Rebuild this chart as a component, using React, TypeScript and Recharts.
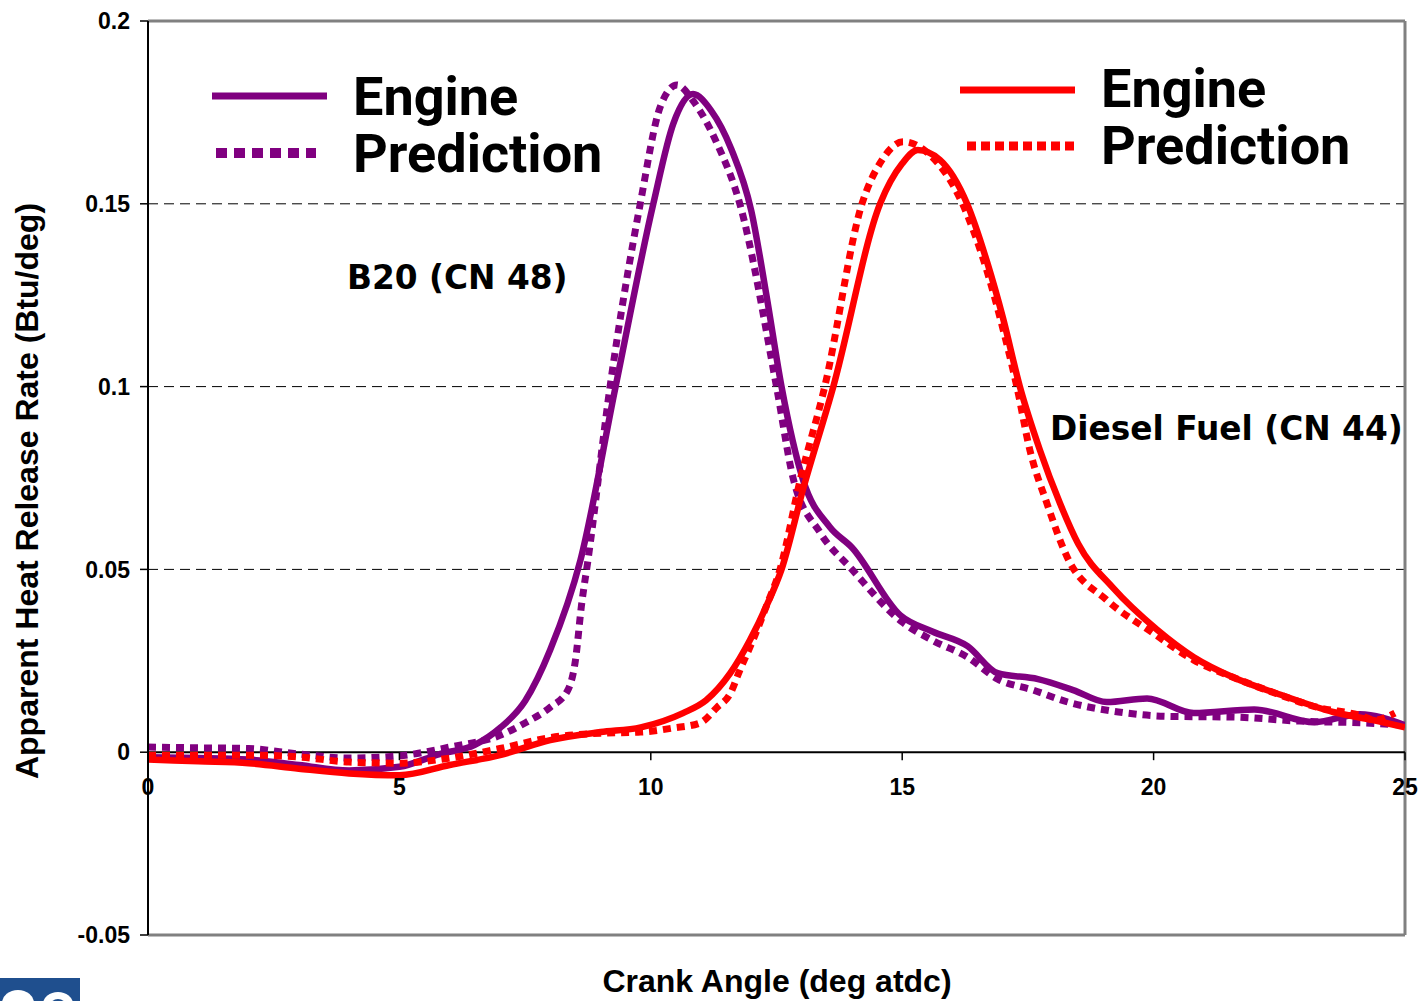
import { LineChart, Line, XAxis, YAxis, ReferenceLine } from 'recharts'

// B20 (CN 48), measured engine heat release
const b20EngineAngle = [0, 1, 2, 3, 4, 5, 5.8, 6.5, 7, 7.5, 8, 8.6, 9.3, 10.05, 10.45, 10.84, 11.2, 11.6, 12.0, 12.3, 12.6, 13.03, 13.56, 14.0, 14.96, 15.6, 16.3, 16.9, 17.7, 18.4, 19.07, 19.87, 20.8, 22.0, 23.2, 24.1, 25]
const b20EngineRate = [-0.0014, -0.0016, -0.002, -0.0035, -0.005, -0.004, -0.0005, 0.002, 0.0066, 0.014, 0.028, 0.0525, 0.1, 0.15, 0.172, 0.18, 0.1755, 0.165, 0.148, 0.125, 0.1, 0.0744, 0.0616, 0.056, 0.0375, 0.033, 0.029, 0.0216, 0.02, 0.017, 0.0137, 0.0147, 0.0107, 0.0117, 0.0082, 0.0104, 0.0074]

// B20 (CN 48), model prediction
const b20PredAngle = [0, 1, 2, 3, 4, 5, 6, 7, 7.5, 8, 8.35, 8.5, 8.62, 8.75, 9.19, 9.79, 10.2, 10.52, 10.85, 11.3, 11.77, 12.5, 12.83, 13.37, 14, 15, 15.6, 16.3, 16.9, 17.6, 18.3, 19.3, 20.3, 21.6, 22.9, 24.2, 25]
const b20PredRate = [0.0014, 0.0012, 0.001, -0.0005, -0.0016, -0.001, 0.0014, 0.0046, 0.008, 0.0123, 0.017, 0.025, 0.04, 0.0525, 0.1, 0.15, 0.177, 0.1825, 0.178, 0.167, 0.15, 0.1, 0.075, 0.06, 0.05, 0.0356, 0.0306, 0.026, 0.02, 0.017, 0.0137, 0.011, 0.0098, 0.0096, 0.0085, 0.008, 0.0074]

// Diesel fuel (CN 44), measured engine heat release
const dieselEngineAngle = [0, 1, 2, 3, 4, 5, 6, 7, 8, 9, 9.8, 10.64, 11.1, 11.58, 11.97, 12.3, 12.6, 13.03, 13.63, 14.56, 15.0, 15.31, 15.75, 16.29, 16.69, 17.0, 17.34, 17.74, 18.14, 18.5, 19.19, 20.07, 20.8, 21.58, 22.57, 23.57, 24.36, 25]
const dieselEngineRate = [-0.002, -0.0025, -0.003, -0.0045, -0.0058, -0.0063, -0.0035, -0.0008, 0.0033, 0.0055, 0.0068, 0.0107, 0.0142, 0.0216, 0.0306, 0.04, 0.05, 0.072, 0.1, 0.15, 0.161, 0.1647, 0.162, 0.15, 0.134, 0.119, 0.1, 0.0826, 0.068, 0.057, 0.045, 0.0335, 0.026, 0.0205, 0.0155, 0.011, 0.0088, 0.0068]

// Diesel fuel (CN 44), model prediction
const dieselPredAngle = [0, 1, 2, 3, 4, 5, 6, 7, 8, 9, 9.8, 10.44, 10.98, 11.32, 11.58, 11.77, 12.03, 12.3, 12.57, 12.97, 13.46, 14.2, 14.6, 15.02, 15.5, 16.2, 16.7, 17.0, 17.28, 17.54, 17.88, 18.28, 19.07, 19.99, 20.8, 21.58, 22.45, 23.25, 24.1, 24.4, 24.8]
const dieselPredRate = [-0.0008, -0.0008, -0.0008, -0.0013, -0.0027, -0.003, -0.0016, 0.001, 0.004, 0.0052, 0.0055, 0.0066, 0.008, 0.0123, 0.016, 0.0224, 0.0306, 0.04, 0.05, 0.0744, 0.1, 0.15, 0.162, 0.167, 0.164, 0.15, 0.131, 0.116, 0.1, 0.0826, 0.068, 0.0534, 0.0416, 0.0326, 0.0252, 0.0205, 0.016, 0.0123, 0.0101, 0.0088, 0.0107]

const xTicks = [0, 5, 10, 15, 20, 25]
const yTicks = [-0.05, 0, 0.05, 0.1, 0.15, 0.2]
const gridValues = [0.05, 0.1, 0.15]

const toPoints = (angles: number[], rates: number[]) =>
    angles.map((angle, i) => ({ angle, rate: rates[i] }))

const W = 1420
const H = 1001
const MARGIN = { top: 21, right: 15, bottom: 36, left: 68 }
const X_AXIS_H = 30
const Y_MIN = -0.05
const Y_MAX = 0.2
const PLOT_H = H - MARGIN.top - MARGIN.bottom - X_AXIS_H
const ZERO_Y = MARGIN.top + (PLOT_H * Y_MAX) / (Y_MAX - Y_MIN)

const PURPLE = '#800080'
const RED = '#ff0000'
const AXIS_FONT = '"Liberation Sans", Arial, sans-serif'
const LEGEND_FONT = 'Roboto, "Noto Sans", sans-serif'
const NOTE_FONT = '"DejaVu Sans", Verdana, sans-serif'

// x axis sits on y = 0, so ticks are drawn there instead of at the plot bottom
function CrankTick({ x, payload }: any) {
    return (
        <g>
            <line x1={x} x2={x} y1={ZERO_Y} y2={ZERO_Y + 8} stroke="#000" strokeWidth={1.5} />
            <text
                x={x}
                y={ZERO_Y + 43}
                textAnchor="middle"
                fontFamily={AXIS_FONT}
                fontWeight={700}
                fontSize={23}
                fill="#000"
            >
                {payload.value}
            </text>
        </g>
    )
}

export default function App() {
    return (
        <div style={{ position: 'fixed', left: 0, top: 0, width: W, height: H, background: '#fff' }}>
            <LineChart width={W} height={H} margin={MARGIN}>
                {gridValues.map((v) => (
                    <ReferenceLine key={v} y={v} stroke="#000" strokeWidth={1} strokeDasharray="10 6" />
                ))}
                <ReferenceLine y={Y_MAX} stroke="#808080" strokeWidth={3} />
                <ReferenceLine x={25} stroke="#808080" strokeWidth={3} />
                <ReferenceLine y={0} stroke="#000" strokeWidth={2} />
                <XAxis
                    dataKey="angle"
                    type="number"
                    domain={[0, 25]}
                    ticks={xTicks}
                    height={X_AXIS_H}
                    axisLine={{ stroke: '#808080', strokeWidth: 3 }}
                    tickLine={false}
                    tick={<CrankTick />}
                    interval={0}
                    allowDataOverflow
                />
                <YAxis
                    type="number"
                    domain={[Y_MIN, Y_MAX]}
                    ticks={yTicks}
                    width={80}
                    axisLine={{ stroke: '#000', strokeWidth: 2 }}
                    tickLine={{ stroke: '#000', strokeWidth: 1.5 }}
                    tickSize={8}
                    tickMargin={10}
                    tickFormatter={(v: number) => String(v)}
                    tick={{ fontFamily: AXIS_FONT, fontWeight: 700, fontSize: 23, fill: '#000' }}
                    interval={0}
                    allowDataOverflow
                />
                <Line
                    data={toPoints(b20EngineAngle, b20EngineRate)}
                    dataKey="rate"
                    type="monotone"
                    stroke={PURPLE}
                    strokeWidth={6.5}
                    dot={false}
                    activeDot={false}
                    isAnimationActive={false}
                />
                <Line
                    data={toPoints(b20PredAngle, b20PredRate)}
                    dataKey="rate"
                    type="monotone"
                    stroke={PURPLE}
                    strokeWidth={7}
                    strokeDasharray="8 6"
                    dot={false}
                    activeDot={false}
                    isAnimationActive={false}
                />
                <Line
                    data={toPoints(dieselEngineAngle, dieselEngineRate)}
                    dataKey="rate"
                    type="monotone"
                    stroke={RED}
                    strokeWidth={6.5}
                    dot={false}
                    activeDot={false}
                    isAnimationActive={false}
                />
                <Line
                    data={toPoints(dieselPredAngle, dieselPredRate)}
                    dataKey="rate"
                    type="monotone"
                    stroke={RED}
                    strokeWidth={7}
                    strokeDasharray="8 6"
                    dot={false}
                    activeDot={false}
                    isAnimationActive={false}
                />
            </LineChart>

            <svg
                width={W}
                height={H}
                style={{ position: 'absolute', left: 0, top: 0, pointerEvents: 'none' }}
            >
                {/* B20 legend */}
                <line x1={212} x2={327} y1={96} y2={96} stroke={PURPLE} strokeWidth={7} />
                <line x1={216} x2={316} y1={153} y2={153} stroke={PURPLE} strokeWidth={10} strokeDasharray="11 7" />
                <text x={353} y={115} fontFamily={LEGEND_FONT} fontWeight={700} fontSize={54} fill="#000">Engine</text>
                <text x={353} y={172} fontFamily={LEGEND_FONT} fontWeight={700} fontSize={54} fill="#000">Prediction</text>

                {/* Diesel legend */}
                <line x1={960} x2={1075} y1={90} y2={90} stroke={RED} strokeWidth={7} />
                <line x1={967} x2={1074} y1={146} y2={146} stroke={RED} strokeWidth={9} strokeDasharray="9 5" />
                <text x={1101} y={107} fontFamily={LEGEND_FONT} fontWeight={700} fontSize={54} fill="#000">Engine</text>
                <text x={1101} y={164} fontFamily={LEGEND_FONT} fontWeight={700} fontSize={54} fill="#000">Prediction</text>

                <text x={347} y={289} fontFamily={NOTE_FONT} fontWeight={700} fontSize={32.8} fill="#000">B20 (CN 48)</text>
                <text x={1050} y={440} fontFamily={NOTE_FONT} fontWeight={700} fontSize={32.8} fill="#000">Diesel Fuel (CN 44)</text>

                <text
                    transform="translate(38,491) rotate(-90)"
                    textAnchor="middle"
                    fontFamily={AXIS_FONT}
                    fontWeight={700}
                    fontSize={32}
                    fill="#000"
                >
                    Apparent Heat Release Rate (Btu/deg)
                </text>
                <text x={777} y={992} textAnchor="middle" fontFamily={AXIS_FONT} fontWeight={700} fontSize={32} fill="#000">
                    Crank Angle (deg atdc)
                </text>

                {/* clipped logo corner */}
                <rect x={0} y={978} width={80} height={23} fill="#1f4f8e" />
                <ellipse cx={18} cy={1003} rx={16} ry={13} fill="#fff" />
                <ellipse cx={58} cy={1004} rx={15} ry={12} fill="#fff" />
                <ellipse cx={58} cy={1006} rx={8} ry={7} fill="#1f4f8e" />
            </svg>
        </div>
    )
}
